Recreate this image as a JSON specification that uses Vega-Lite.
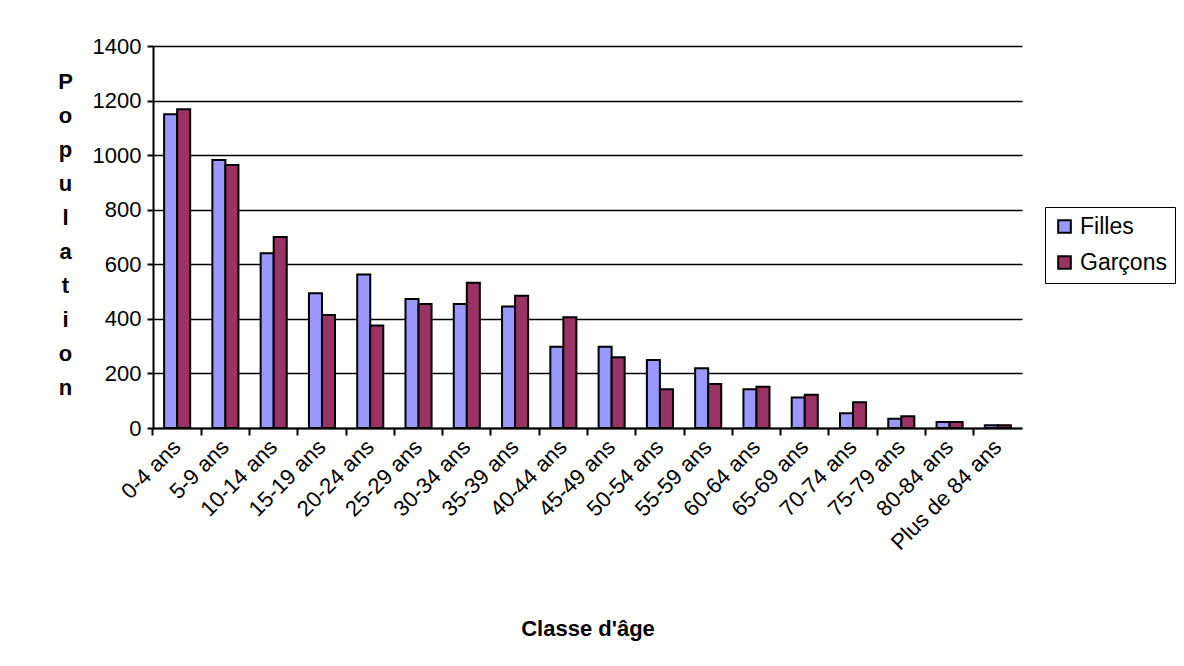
{
  "$schema": "https://vega.github.io/schema/vega-lite/v6.json",
  "width": 869,
  "height": 382,
  "autosize": {"type": "none"},
  "padding": {"left": 153, "top": 46, "right": 162, "bottom": 238},
  "background": "white",
  "config": {
    "view": {"stroke": null},
    "font": "Liberation Sans",
    "axis": {"labelFont": "Liberation Sans", "titleFont": "Liberation Sans", "labelColor": "black", "titleColor": "black"},
    "legend": {"labelFont": "Liberation Sans"}
  },
  "data": {
    "values": [
      {"classe": "0-4 ans", "sexe": "Filles", "population": 1150},
      {"classe": "0-4 ans", "sexe": "Garçons", "population": 1168},
      {"classe": "5-9 ans", "sexe": "Filles", "population": 982},
      {"classe": "5-9 ans", "sexe": "Garçons", "population": 964},
      {"classe": "10-14 ans", "sexe": "Filles", "population": 640},
      {"classe": "10-14 ans", "sexe": "Garçons", "population": 700},
      {"classe": "15-19 ans", "sexe": "Filles", "population": 494},
      {"classe": "15-19 ans", "sexe": "Garçons", "population": 414},
      {"classe": "20-24 ans", "sexe": "Filles", "population": 563},
      {"classe": "20-24 ans", "sexe": "Garçons", "population": 376},
      {"classe": "25-29 ans", "sexe": "Filles", "population": 473},
      {"classe": "25-29 ans", "sexe": "Garçons", "population": 454},
      {"classe": "30-34 ans", "sexe": "Filles", "population": 454},
      {"classe": "30-34 ans", "sexe": "Garçons", "population": 532},
      {"classe": "35-39 ans", "sexe": "Filles", "population": 445},
      {"classe": "35-39 ans", "sexe": "Garçons", "population": 485},
      {"classe": "40-44 ans", "sexe": "Filles", "population": 298},
      {"classe": "40-44 ans", "sexe": "Garçons", "population": 406},
      {"classe": "45-49 ans", "sexe": "Filles", "population": 298},
      {"classe": "45-49 ans", "sexe": "Garçons", "population": 259},
      {"classe": "50-54 ans", "sexe": "Filles", "population": 249},
      {"classe": "50-54 ans", "sexe": "Garçons", "population": 142},
      {"classe": "55-59 ans", "sexe": "Filles", "population": 219},
      {"classe": "55-59 ans", "sexe": "Garçons", "population": 161},
      {"classe": "60-64 ans", "sexe": "Filles", "population": 142},
      {"classe": "60-64 ans", "sexe": "Garçons", "population": 151},
      {"classe": "65-69 ans", "sexe": "Filles", "population": 112},
      {"classe": "65-69 ans", "sexe": "Garçons", "population": 122},
      {"classe": "70-74 ans", "sexe": "Filles", "population": 54},
      {"classe": "70-74 ans", "sexe": "Garçons", "population": 94},
      {"classe": "75-79 ans", "sexe": "Filles", "population": 34},
      {"classe": "75-79 ans", "sexe": "Garçons", "population": 43},
      {"classe": "80-84 ans", "sexe": "Filles", "population": 22},
      {"classe": "80-84 ans", "sexe": "Garçons", "population": 22},
      {"classe": "Plus de 84 ans", "sexe": "Filles", "population": 10},
      {"classe": "Plus de 84 ans", "sexe": "Garçons", "population": 10}
    ]
  },
  "mark": {"type": "bar", "stroke": "black", "strokeWidth": 2},
  "encoding": {
    "x": {
      "field": "classe",
      "type": "nominal",
      "sort": null,
      "scale": {"paddingInner": 0.46, "paddingOuter": 0.23},
      "axis": {
        "title": "Classe d'âge",
        "titleFontSize": 22,
        "titleFontWeight": "bold",
        "titleY": 200,
        "titleBaseline": "middle",
        "labelAngle": -45,
        "labelAlign": "right",
        "labelBaseline": "middle",
        "labelFontSize": 22,
        "labelPadding": 8,
        "labelOverlap": false,
        "labelBound": false,
        "ticks": true,
        "bandPosition": -0.426,
        "tickColor": "black",
        "tickSize": 7,
        "tickWidth": 2,
        "tickOpacity": 1,
        "domainColor": "black",
        "domainWidth": 2,
        "grid": false
      }
    },
    "xOffset": {"field": "sexe", "type": "nominal", "scale": {"paddingInner": 0, "paddingOuter": 0}},
    "y": {
      "field": "population",
      "type": "quantitative",
      "scale": {"domain": [0, 1400], "nice": false},
      "axis": {
        "values": [0, 200, 400, 600, 800, 1000, 1200, 1400],
        "format": "d",
        "title": ["P", "o", "p", "u", "l", "a", "t", "i", "o", "n"],
        "titleAngle": 0,
        "titleFontSize": 22,
        "titleFontWeight": "bold",
        "titleLineHeight": 34,
        "titleX": -88,
        "titleY": 35,
        "titleAlign": "center",
        "titleBaseline": "middle",
        "labelFontSize": 22,
        "labelPadding": 6,
        "ticks": true,
        "tickColor": "black",
        "tickSize": 6,
        "tickWidth": 2,
        "domainColor": "black",
        "domainWidth": 2,
        "grid": true,
        "gridColor": "black",
        "gridWidth": 1.5,
        "gridOpacity": 1
      }
    },
    "color": {
      "field": "sexe",
      "type": "nominal",
      "scale": {"domain": ["Filles", "Garçons"], "range": ["#9999FF", "#993366"]},
      "legend": {
        "title": null,
        "orient": "none",
        "legendX": 892,
        "legendY": 161,
        "strokeColor": "black",
        "fillColor": "white",
        "padding": 8,
        "symbolType": "square",
        "symbolSize": 160,
        "symbolStrokeColor": "black",
        "symbolStrokeWidth": 2,
        "symbolOpacity": 1,
        "labelFontSize": 23,
        "labelColor": "black",
        "labelOffset": 4,
        "rowPadding": 12
      }
    }
  }
}
